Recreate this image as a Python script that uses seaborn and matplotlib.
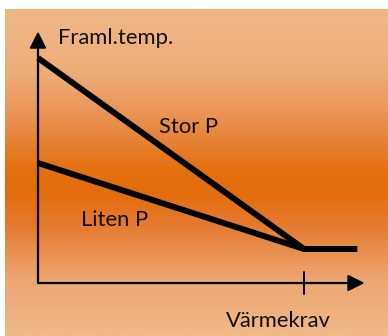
import numpy as np
import pandas as pd
import matplotlib
matplotlib.use("Agg")
import matplotlib.pyplot as plt
import seaborn as sns
from matplotlib.colors import LinearSegmentedColormap
from matplotlib.patches import Polygon

sns.set_theme(style="white")
plt.rcParams["font.family"] = ["Lato", "DejaVu Sans"]

# Heating curve: flow temperature vs. heat demand
series = ["Stor P", "Liten P"]
demand = [0.0, 1.0, 1.2]
stor_p = [90.0, 13.6, 13.6]
liten_p = [48.0, 13.6, 13.6]
y_label = "Framl.temp."
x_label = "Värmekrav"

df = pd.DataFrame({
    "demand": demand * 2,
    "temp": stor_p + liten_p,
    "curve": [series[0]] * 3 + [series[1]] * 3,
})

W, H, DPI = 388, 336, 100
fig = plt.figure(figsize=(W / DPI, H / DPI), dpi=DPI)
ax = fig.add_axes([0, 0, 1, 1])

# pixel geometry of the plot origin and scale
ox, oy = 38, 283          # origin in pixels from top-left
sx, sy = 266.0, 2.5       # pixels per data unit
def px_x(p):
    return (p - ox) / sx
def px_y(p):
    return (oy - p) / sy

ax.set_xlim(px_x(0), px_x(W))
ax.set_ylim(px_y(H), px_y(0))
ax.axis("off")

# orange gradient panel
grad_cmap = LinearSegmentedColormap.from_list(
    "panel",
    [(0.0, "#f0b686"), (0.19, "#eeae7a"), (0.34, "#e98f4e"),
     (0.49, "#e4700f"), (0.56, "#e36c0c"), (0.66, "#e57a2e"),
     (0.83, "#eda672"), (1.0, "#f1b888")])
grad = np.linspace(0, 1, 256).reshape(-1, 1)
ax.imshow(grad, cmap=grad_cmap, aspect="auto",
          extent=[px_x(5), px_x(W), px_y(H), px_y(9)], origin="upper", zorder=0)

sns.lineplot(data=df, x="demand", y="temp", units="curve", estimator=None,
             color="black", linewidth=4.3, ax=ax, legend=False, zorder=3,
             solid_capstyle="butt", solid_joinstyle="miter")

# axes with arrow heads
ytip = px_y(33)
xtip = px_x(363)
ax.plot([0, 0], [0, px_y(47)], color="black", lw=1.6, zorder=4)
ax.plot([0, px_x(349)], [0, 0], color="black", lw=1.6, zorder=4)
hw = 7.5 / sx
hh = 15 / sy
ax.add_patch(Polygon([[0, ytip], [-hw, ytip - hh], [hw, ytip - hh]],
                     closed=True, color="black", zorder=4))
aw = 15 / sx
ah = 7.5 / sy
ax.add_patch(Polygon([[xtip, 0], [xtip - aw, ah], [xtip - aw, -ah]],
                     closed=True, color="black", zorder=4))
# tick at the breakpoint
ax.plot([demand[1], demand[1]], [px_y(272), px_y(294)], color="black", lw=1.4, zorder=4)

fs = 15.8
ax.text(px_x(58), px_y(44), y_label, fontsize=fs, color="#111111",
        ha="left", va="baseline")
ax.text(px_x(159), px_y(133), series[0], fontsize=fs, color="#111111",
        ha="left", va="baseline")
ax.text(px_x(81), px_y(226), series[1], fontsize=fs, color="#111111",
        ha="left", va="baseline")
ax.text(px_x(226), px_y(327), x_label, fontsize=fs, color="#111111",
        ha="left", va="baseline")

fig.savefig("out.png", dpi=DPI, facecolor="white")
